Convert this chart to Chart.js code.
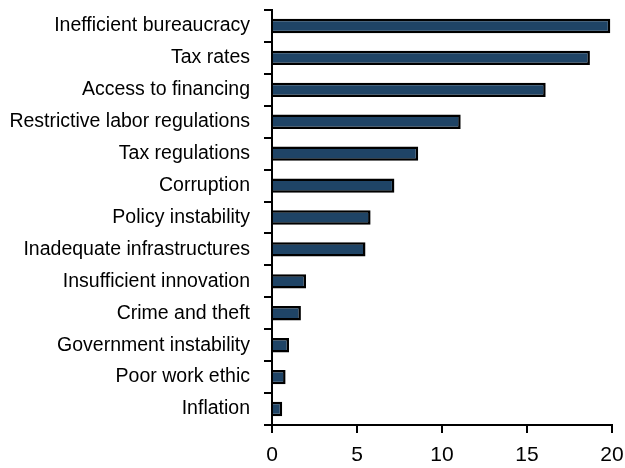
<!DOCTYPE html>
<html>
<head>
<meta charset="utf-8">
<script src="https://cdn.jsdelivr.net/npm/chart.js@4"></script>
<style>
html,body{margin:0;padding:0;background:#fff;}
#wrap{width:625px;height:468px;position:relative;}
</style>
</head>
<body>
<div id="wrap"><canvas id="c" width="625" height="468"></canvas></div>
<script>
const categories = [
  "Inefficient bureaucracy",
  "Tax rates",
  "Access to financing",
  "Restrictive labor regulations",
  "Tax regulations",
  "Corruption",
  "Policy instability",
  "Inadequate infrastructures",
  "Insufficient innovation",
  "Crime and theft",
  "Government instability",
  "Poor work ethic",
  "Inflation"
];
const values = [19.9, 18.7, 16.1, 11.1, 8.6, 7.2, 5.8, 5.5, 2.0, 1.7, 1.0, 0.8, 0.6];
const xTicks = [0, 5, 10, 15, 20];

const FONT = "'Liberation Sans', Arial, sans-serif";

new Chart(document.getElementById('c'), {
  type: 'bar',
  data: {
    labels: categories,
    datasets: [{
      data: values,
      backgroundColor: '#1f4466',
      borderColor: '#000000',
      borderWidth: 2.5,
      borderSkipped: 'start',
      barPercentage: 0.45,
      categoryPercentage: 1.0
    }]
  },
  options: {
    indexAxis: 'y',
    responsive: false,
    animation: false,
    events: [],
    layout: { padding: { left: 0, right: 13, top: 10, bottom: 0 } },
    plugins: { legend: { display: false }, tooltip: { enabled: false } },
    scales: {
      x: {
        min: 0, max: 20,
        afterBuildTicks: (s) => { s.ticks = xTicks.map(v => ({ value: v })); },
        afterFit: (s) => { s.height = 43; s.paddingLeft = 0; s.paddingRight = 0; },
        grid: { drawOnChartArea: false, drawTicks: true, tickLength: 8, color: '#000', lineWidth: 2 },
        border: { display: true, color: '#000', width: 2 },
        ticks: { color: '#000', font: { family: FONT, size: 21 }, padding: 10, maxRotation: 0 }
      },
      y: {
        afterFit: (s) => { s.width = 272; s.paddingTop = 0; s.paddingBottom = 0; },
        grid: { offset: true, drawOnChartArea: false, drawTicks: true, tickLength: 8, color: '#000', lineWidth: 2 },
        border: { display: true, color: '#000', width: 2 },
        ticks: { color: '#000', font: { family: FONT, size: 19.5 }, padding: 14, autoSkip: false }
      }
    }
  }
});
</script>
</body>
</html>
